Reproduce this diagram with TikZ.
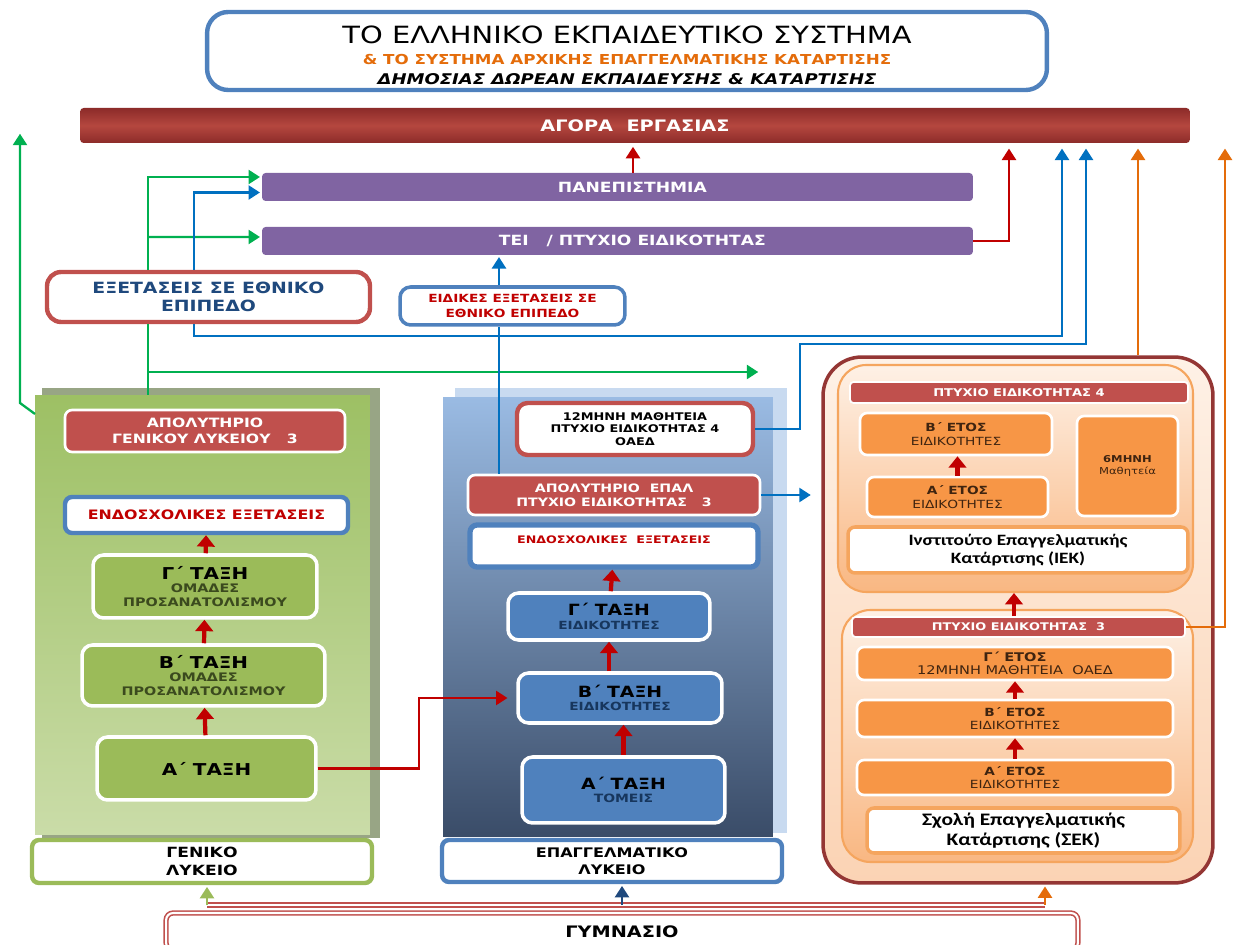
\documentclass[tikz,border=0pt]{standalone}
\usepackage{fontspec}
\setmainfont[FakeStretch=1.22]{DejaVu Sans}
\newfontfamily\calfont[FakeStretch=1.22]{Carlito}
\usetikzlibrary{arrows.meta}
\newcommand\fsz[2]{\fontsize{#1}{#2}\selectfont}

\definecolor{boxred}{HTML}{C0504D}
\definecolor{barredtop}{HTML}{8C2B29}
\definecolor{barredmid}{HTML}{B5473F}
\definecolor{barpurple}{HTML}{8064A2}
\definecolor{boxgreen}{HTML}{9BBB59}
\definecolor{boxblue}{HTML}{4F81BD}
\definecolor{boxorange}{HTML}{F79646}
\definecolor{linegreen}{HTML}{00B050}
\definecolor{lineblue}{HTML}{0070C0}
\definecolor{linered}{HTML}{C00000}
\definecolor{lineorange}{HTML}{E46C0A}
\definecolor{textblue}{HTML}{1F497D}
\definecolor{textnavy}{HTML}{17365D}
\definecolor{textolive}{HTML}{3B4A1E}
\definecolor{textbrown}{HTML}{3F2410}
\definecolor{framered}{HTML}{943634}
\definecolor{orangeedge}{HTML}{F5A55E}
\definecolor{gltop}{HTML}{9DC064}
\definecolor{glbottom}{HTML}{CADCA8}
\definecolor{glshadow}{HTML}{98A585}
\definecolor{eptop}{HTML}{9ABBE3}
\definecolor{epbottom}{HTML}{3A4C68}
\definecolor{epshadow}{HTML}{C8DAF0}
\definecolor{peachlight}{HTML}{FEF1E6}
\definecolor{peach}{HTML}{FBD3B4}
\definecolor{orangesoft}{HTML}{F9B782}

\tikzset{
  tag/.style={align=center, inner sep=1pt, font=\bfseries, rounded corners=4pt},
  redtag/.style={tag, fill=boxred, draw=white, line width=1.5pt, text=white},
  greentag/.style={tag, fill=boxgreen, draw=white, line width=2pt, rounded corners=6pt},
  bluetag/.style={tag, fill=boxblue, draw=white, line width=2pt, rounded corners=6pt, text=textnavy},
  orangetag/.style={tag, fill=boxorange, draw=white, line width=1.5pt, text=textbrown},
  whitetag/.style={tag, fill=white, line width=2pt},
  bartag/.style={tag, rounded corners=2pt, text=white},
  panel/.style={inner sep=0, draw=none},
  link/.style={line width=1.3pt, -{Triangle[width=8pt,length=6.5pt]}, shorten >=1pt},
  plain link/.style={line width=1.3pt},
  climb/.style={draw=linered, line width=2.4pt, -{Triangle[width=10pt,length=6.5pt]}},
}

\begin{document}
\begin{tikzpicture}[x=0.02cm,y=-0.02cm]
\useasboundingbox (0,0) rectangle (1235,945);

% header and labour market
\node[whitetag, draw=boxblue, line width=2.5pt, rounded corners=12pt, minimum width=16.8cm, minimum height=1.56cm, font=\bfseries\fsz{7.8}{11.5}] (title) at (627,51)
  {{\mdseries\fsz{13.5}{13}\rule{0pt}{15pt}ΤΟ ΕΛΛΗΝΙΚΟ ΕΚΠΑΙΔΕΥΤΙΚΟ ΣΥΣΤΗΜΑ}\\
   {\color{lineorange}\& ΤΟ ΣΥΣΤΗΜΑ ΑΡΧΙΚΗΣ ΕΠΑΓΓΕΛΜΑΤΙΚΗΣ ΚΑΤΑΡΤΙΣΗΣ}\\
   {\itshape\fsz{8.4}{11.5}ΔΗΜΟΣΙΑΣ ΔΩΡΕΑΝ ΕΚΠΑΙΔΕΥΣΗΣ \& ΚΑΤΑΡΤΙΣΗΣ}};
\node[bartag, top color=barredtop, bottom color=barredtop, middle color=barredmid, minimum width=22.2cm, minimum height=0.7cm, font=\bfseries\fsz{9}{10}] (agora) at (635,125.5) {ΑΓΟΡΑ~~ΕΡΓΑΣΙΑΣ};

% higher education
\node[bartag, fill=barpurple, minimum width=14.22cm, minimum height=0.56cm, font=\bfseries\fsz{8}{9}] (pan) at (617.5,187) {~~~~~ΠΑΝΕΠΙΣΤΗΜΙΑ};
\node[bartag, fill=barpurple, minimum width=14.22cm, minimum height=0.56cm, font=\bfseries\fsz{8}{9}] (tei) at (617.5,241) {~~~~~ΤΕΙ~~~/ ΠΤΥΧΙΟ ΕΙΔΙΚΟΤΗΤΑΣ};
\node[whitetag, draw=boxred, line width=2.5pt, rounded corners=8pt, text=textblue, minimum width=6.46cm, minimum height=1cm, font=\bfseries\fsz{8.8}{10.5}] (exams) at (208.5,297) {ΕΞΕΤΑΣΕΙΣ ΣΕ ΕΘΝΙΚΟ\\ΕΠΙΠΕΔΟ};
\node[whitetag, draw=boxblue, text=linered, rounded corners=6pt, minimum width=4.5cm, minimum height=0.76cm, font=\bfseries\fsz{6.4}{8}] (special) at (512.5,306) {ΕΙΔΙΚΕΣ ΕΞΕΤΑΣΕΙΣ ΣΕ\\ΕΘΝΙΚΟ ΕΠΙΠΕΔΟ};

% panels
\node[panel, fill=glshadow, minimum width=6.76cm, minimum height=9.0cm] (glShadow) at (211,613) {};
\node[panel, top color=gltop, bottom color=glbottom, minimum width=6.7cm, minimum height=8.8cm] (glPanel) at (202.5,615) {};
\node[panel, fill=epshadow, minimum width=6.64cm, minimum height=8.9cm] (epShadow) at (621,610.5) {};
\node[panel, top color=eptop, bottom color=epbottom, minimum width=6.6cm, minimum height=8.8cm] (epPanel) at (608,617) {};
\node[panel, draw=framered, line width=2pt, rounded corners=22pt, top color=peachlight, bottom color=peach, minimum width=7.8cm, minimum height=10.52cm] (outer) at (1018,620) {};
\node[panel, draw=orangeedge, line width=1.2pt, rounded corners=16pt, top color=peachlight, bottom color=orangesoft, minimum width=7.1cm, minimum height=4.54cm] (iekGrp) at (1015.5,478.5) {};
\node[panel, draw=orangeedge, line width=1.2pt, rounded corners=16pt, top color=peachlight, bottom color=orangesoft, minimum width=7.02cm, minimum height=5.04cm] (sekGrp) at (1017.5,736) {};

% general lyceum
\node[redtag, minimum width=5.6cm, minimum height=0.84cm, font=\bfseries\fsz{7.3}{9}] (apGL) at (205,431) {ΑΠΟΛΥΤΗΡΙΟ\\ΓΕΝΙΚΟΥ ΛΥΚΕΙΟΥ~~~3};
\node[whitetag, draw=boxblue, line width=2.5pt, text=linered, minimum width=5.66cm, minimum height=0.72cm, font=\bfseries\fsz{7.4}{8}] (endoGL) at (206.5,515) {ΕΝΔΟΣΧΟΛΙΚΕΣ ΕΞΕΤΑΣΕΙΣ};
\node[greentag, text=textolive, minimum width=4.48cm, minimum height=1.26cm, font=\bfseries\fsz{6.7}{7.8}] (gGL) at (205,586.5) {{\color{black}\fsz{9.3}{10}Γ΄ ΤΑΞΗ}\\ΟΜΑΔΕΣ\\ΠΡΟΣΑΝΑΤΟΛΙΣΜΟΥ};
\node[greentag, text=textolive, minimum width=4.86cm, minimum height=1.22cm, font=\bfseries\fsz{6.7}{7.8}] (bGL) at (203.5,675.5) {{\color{black}\fsz{9.3}{10}Β΄ ΤΑΞΗ}\\ΟΜΑΔΕΣ\\ΠΡΟΣΑΝΑΤΟΛΙΣΜΟΥ};
\node[greentag, minimum width=4.38cm, minimum height=1.26cm, font=\bfseries\fsz{9.3}{10}] (aGL) at (206.5,768.5) {Α΄ ΤΑΞΗ};
\node[whitetag, draw=boxgreen, line width=2.5pt, minimum width=6.8cm, minimum height=0.86cm, font=\bfseries\fsz{8}{10}] (genLyk) at (202,861.5) {ΓΕΝΙΚΟ\\ΛΥΚΕΙΟ};

% vocational lyceum
\node[whitetag, draw=boxred, line width=2.5pt, rounded corners=6pt, minimum width=4.72cm, minimum height=1.04cm, font=\bfseries\fsz{6}{7.2}] (mathEP) at (635,429) {12ΜΗΝΗ ΜΑΘΗΤΕΙΑ\\ΠΤΥΧΙΟ ΕΙΔΙΚΟΤΗΤΑΣ 4\\ΟΑΕΔ};
\node[redtag, minimum width=5.84cm, minimum height=0.8cm, font=\bfseries\fsz{6.6}{8.2}] (apEP) at (614,495) {ΑΠΟΛΥΤΗΡΙΟ~~ΕΠΑΛ\\ΠΤΥΧΙΟ ΕΙΔΙΚΟΤΗΤΑΣ~~~3};
\node[whitetag, draw=boxblue, line width=3pt, text=linered, minimum width=5.76cm, minimum height=0.84cm, text height=0.15cm, text depth=0.25cm, font=\bfseries\fsz{5.9}{7}] (endoEP) at (614,546) {ΕΝΔΟΣΧΟΛΙΚΕΣ~~ΕΞΕΤΑΣΕΙΣ};
\node[bluetag, minimum width=4.04cm, minimum height=0.94cm, font=\bfseries\fsz{6.4}{7.6}] (gEP) at (609,616.5) {{\color{black}\fsz{8.8}{9}Γ΄ ΤΑΞΗ}\\ΕΙΔΙΚΟΤΗΤΕΣ};
\node[bluetag, minimum width=4.08cm, minimum height=1.0cm, font=\bfseries\fsz{6.4}{7.6}] (bEP) at (620,698) {{\color{black}\fsz{8.8}{9}Β΄ ΤΑΞΗ}\\ΕΙΔΙΚΟΤΗΤΕΣ};
\node[bluetag, minimum width=4.06cm, minimum height=1.32cm, font=\bfseries\fsz{6.5}{7.6}] (aEP) at (623.5,790) {{\color{black}\fsz{8.8}{9}Α΄ ΤΑΞΗ}\\ΤΟΜΕΙΣ};
\node[whitetag, draw=boxblue, line width=2.5pt, minimum width=6.8cm, minimum height=0.84cm, font=\bfseries\fsz{7.5}{9.5}] (epLyk) at (612,861) {ΕΠΑΓΓΕΛΜΑΤΙΚΟ\\ΛΥΚΕΙΟ};

% vocational training
\node[redtag, rounded corners=2pt, line width=1pt, minimum width=6.76cm, minimum height=0.42cm, font=\bfseries\fsz{6.1}{7}] (pt4) at (1019,392.5) {ΠΤΥΧΙΟ ΕΙΔΙΚΟΤΗΤΑΣ 4};
\node[orangetag, minimum width=3.84cm, minimum height=0.84cm, font=\fsz{6.4}{7.6}] (bIEK) at (956,434) {{\bfseries Β΄ ΕΤΟΣ}\\ΕΙΔΙΚΟΤΗΤΕΣ};
\node[orangetag, minimum width=3.62cm, minimum height=0.8cm, font=\fsz{6.4}{7.6}] (aIEK) at (957.5,497) {{\bfseries Α΄ ΕΤΟΣ}\\ΕΙΔΙΚΟΤΗΤΕΣ};
\node[orangetag, minimum width=2.02cm, minimum height=2.0cm, font=\fsz{5.4}{6.4}] (six) at (1127.5,466) {{\bfseries 6ΜΗΝΗ}\\Μαθητεία};
\node[whitetag, draw=orangeedge, minimum width=6.8cm, minimum height=0.92cm, font=\calfont\bfseries\fsz{9}{10.5}] (iek) at (1018,550) {Ινστιτούτο Επαγγελματικής\\Κατάρτισης (ΙΕΚ)};
\node[redtag, rounded corners=2pt, line width=1pt, minimum width=6.66cm, minimum height=0.4cm, font=\bfseries\fsz{6}{7}] (pt3) at (1018.5,627) {ΠΤΥΧΙΟ ΕΙΔΙΚΟΤΗΤΑΣ~~3};
\node[orangetag, minimum width=6.32cm, minimum height=0.66cm, font=\fsz{6.8}{7.4}] (gSEK) at (1015,663.5) {{\bfseries Γ΄ ΕΤΟΣ}\\12ΜΗΝΗ ΜΑΘΗΤΕΙΑ~~ΟΑΕΔ};
\node[orangetag, minimum width=6.32cm, minimum height=0.74cm, font=\fsz{6.4}{7.4}] (bSEK) at (1015,718.5) {{\bfseries Β΄ ΕΤΟΣ}\\ΕΙΔΙΚΟΤΗΤΕΣ};
\node[orangetag, minimum width=6.32cm, minimum height=0.7cm, font=\fsz{6.4}{7.4}] (aSEK) at (1015,777.5) {{\bfseries Α΄ ΕΤΟΣ}\\ΕΙΔΙΚΟΤΗΤΕΣ};
\node[whitetag, draw=orangeedge, minimum width=6.26cm, minimum height=0.9cm, font=\calfont\bfseries\fsz{10}{11}] (sek) at (1023.5,830.5) {Σχολή Επαγγελματικής\\Κατάρτισης (ΣΕΚ)};

% gymnasium
\node[tag, fill=white, draw=boxred, line width=0.9pt, double=white, double distance=1.2pt, minimum width=18.24cm, minimum height=0.74cm, font=\bfseries\fsz{9}{10}] (gym) at (622,931.5) {ΓΥΜΝΑΣΙΟ};

% line positions
\coordinate (glCorner) at (35,414);
\coordinate (glTip) at (20,132);
\coordinate (gx) at (148,395);
\coordinate (gEnd) at (760,372);
\coordinate (bx) at (499,0);
\coordinate (bj) at (499,336);
\coordinate (bl) at (194,336);
\coordinate (b3) at (1062,0);
\coordinate (b4) at (800,344);
\coordinate (b5) at (1086,0);
\coordinate (px) at (633,0);
\coordinate (r1) at (1009,0);
\coordinate (rx) at (419,0);
\coordinate (cx) at (1014,0);
\coordinate (ox) at (1138,0);
\coordinate (ox2) at (1225,0);
\coordinate (gymL) at (207,905);
\coordinate (gymM) at (622,905);
\coordinate (gymR) at (1045,905);

% green
\draw[link, draw=linegreen] (glCorner) -- ++(-15,-11) -- (glTip);
\draw[plain link, draw=linegreen] (gx) -- (gx |- exams.south);
\draw[link, draw=linegreen] (gx |- exams.north) |- ([yshift=0.2cm]pan.west);
\draw[link, draw=linegreen] (gx |- tei.west) ++(0,-4) -- ([yshift=0.08cm]tei.west);
\draw[link, draw=linegreen] (gx |- gEnd) -- (gEnd);

% blue
\draw[plain link, draw=lineblue] (bx |- apEP.north) -- (bx |- special.south);
\draw[link, draw=lineblue] (bx |- special.north) -- (bx |- tei.south);
\draw[plain link, draw=lineblue] (bj) -- (bl) -- (bl |- exams.south);
\draw[link, draw=lineblue] (bl |- exams.north) |- ([yshift=-0.11cm]pan.west);
\draw[link, draw=lineblue, shorten >=3pt] (bj) -| (b3 |- agora.south);
\draw[link, draw=lineblue, shorten >=3pt] (mathEP.east) -| (b4) -| (b5 |- agora.south);
\draw[link, draw=lineblue, shorten >=6pt] (apEP.east) -- (apEP.east -| outer.west);

% red
\draw[link, draw=linered, shorten >=2pt] (px |- pan.north) -- (px |- agora.south);
\draw[link, draw=linered, shorten >=3pt] (tei.east) -| (r1 |- agora.south);
\draw[link, draw=linered, shorten >=5pt] (aGL.east) -| (rx |- bEP.west) -- (bEP.west);
\draw[climb] (gGL) -- (endoGL);
\draw[climb] (bGL) -- (gGL);
\draw[climb] (aGL) -- (bGL);
\draw[climb] (gEP) -- (endoEP);
\draw[climb] (bEP.north -| gEP.south) -- (gEP.south);
\draw[climb] (aEP.north) -- (aEP.north |- bEP.south);
\draw[climb] (aIEK) -- (aIEK.north |- bIEK.south);
\draw[climb] (cx |- pt3.north) -- (cx |- iekGrp.south);
\draw[climb] (bSEK) -- (bSEK.north |- gSEK.south);
\draw[climb] (aSEK) -- (aSEK.north |- bSEK.south);

% orange
\draw[link, draw=lineorange, shorten >=3pt] (ox |- outer.north) -- (ox |- agora.south);
\draw[link, draw=lineorange, shorten >=3pt] (pt3.east) -| (ox2 |- agora.south);

% from gymnasium
\draw[draw=boxred, line width=0.9pt, double=white, double distance=1.4pt] (gymL) -- (gymR);
\draw[link, draw=boxgreen] (gymL) -- (gymL |- genLyk.south);
\draw[link, draw=textblue] (gymM) -- (gymM |- epLyk.south);
\draw[link, draw=lineorange] (gymR) -- (gymR |- outer.south);
\end{tikzpicture}
\end{document}
